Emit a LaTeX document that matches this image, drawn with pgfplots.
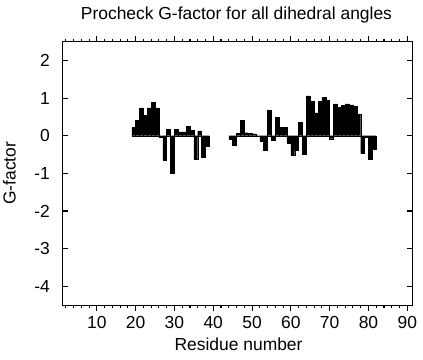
\documentclass[border=0pt]{standalone}
\usepackage{pgfplots}
\pgfplotsset{compat=1.18}
\usepackage{fontspec}
\setmainfont{Liberation Sans}
\begin{document}
\begin{tikzpicture}[font=\fontsize{17.5}{21}\selectfont]
\begin{axis}[
  scale only axis,
  width=350.4bp, height=263.3bp,
  xmin=1.1, xmax=91.4,
  ymin=-4.5, ymax=2.5,
  xtick={10,20,...,90},
  minor xtick={2,4,...,90},
  ytick={-4,-3,...,2},
  tick align=inside,
  major tick length=6bp,
  minor tick length=3bp,
  axis line style={line width=1bp},
  every tick/.style={black, line width=1.1bp},
  /pgf/number format/assume math mode=true,
  xticklabel style={anchor=base, inner sep=0pt, yshift=-17bp},
  yticklabel style={anchor=east, inner sep=0pt, xshift=-12.3bp},
  title={Procheck G-factor for all dihedral angles},
  every axis title/.style={at={(axis description cs:0.497,1.084)}, anchor=base, inner sep=0pt},
  xlabel={Residue number},
  xlabel style={at={(axis description cs:0.503,-0.172)}, anchor=base, inner sep=0pt},
  ylabel={G-factor},
  ylabel style={at={(axis description cs:-0.1507,0.5)}, anchor=center, inner sep=0pt},
  ybar, bar width=1,
]
\addplot[fill=black, draw=black, line width=0.4bp] coordinates {
(19.5,0.22) (20.5,0.40) (21.5,0.74) (22.5,0.54) (23.5,0.74) (24.5,0.89) (25.5,0.74)
(26.5,-0.03) (27.5,-0.65) (28.5,0.17) (29.5,-1.00) (30.5,0.17) (31.5,0.10) (32.5,0.10)
(33.5,0.25) (34.5,0.14) (35.5,-0.62) (36.5,0.13) (37.5,-0.58) (38.5,-0.29)
(44.5,-0.09) (45.5,-0.24) (46.5,0.06) (47.5,0.41) (48.5,0.08) (49.5,0.06) (50.5,0.05)
(51.5,-0.02) (52.5,-0.14) (53.5,-0.38) (54.5,0.68) (55.5,-0.11) (56.5,0.49) (57.5,0.23)
(58.5,0.23) (59.5,-0.19) (60.5,-0.51) (61.5,-0.38) (62.5,0.36) (63.5,-0.50) (64.5,1.06)
(65.5,0.92) (66.5,0.61) (67.5,0.92) (68.5,1.02) (69.5,0.95) (70.5,-0.08) (71.5,0.85)
(72.5,0.76) (73.5,0.80) (74.5,0.85) (75.5,0.82) (76.5,0.78) (77.5,0.57) (78.5,-0.47)
(79.5,-0.04) (80.5,-0.63) (81.5,-0.36)
};
\end{axis}
\pgfresetboundingbox
\useasboundingbox ([shift={(-62.3bp,-55bp)}]current axis.south west) rectangle ([shift={(10.3bp,41.7bp)}]current axis.north east);
\end{tikzpicture}
\end{document}
